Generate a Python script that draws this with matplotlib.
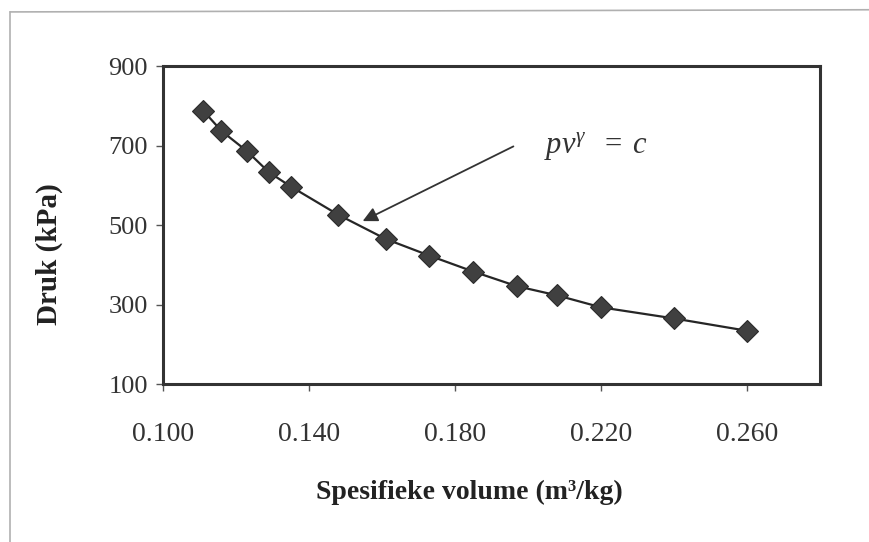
import matplotlib
matplotlib.use('Agg')
import matplotlib.pyplot as plt
from matplotlib.lines import Line2D

# Spesifieke volume (m3/kg) en druk (kPa), afgelees van die grafiek
volume = [0.111, 0.116, 0.123, 0.129, 0.135, 0.148, 0.161, 0.173,
          0.185, 0.197, 0.208, 0.220, 0.240, 0.260]
druk = [788, 737, 686, 633, 597, 526, 465, 423,
        383, 346, 323, 293, 265, 234]

x_ticks = [0.100, 0.140, 0.180, 0.220, 0.260]
y_ticks = [100, 300, 500, 700, 900]

plt.rcParams['font.family'] = 'Liberation Serif'
plt.rcParams['mathtext.fontset'] = 'custom'
plt.rcParams['mathtext.rm'] = 'Liberation Serif'
plt.rcParams['mathtext.it'] = 'Liberation Serif:italic'

fig = plt.figure(figsize=(8.69, 5.42), dpi=100)
ax = fig.add_axes([0.1876, 0.2915, 0.756, 0.5865])

# buitenste raam (net bo en links sigbaar)
fig.add_artist(Line2D([0.012, 1.0], [0.978, 0.982], transform=fig.transFigure,
                      color='#b0b0b0', lw=1.2))
fig.add_artist(Line2D([0.012, 0.012], [0.0, 0.978], transform=fig.transFigure,
                      color='#b0b0b0', lw=1.2))

ax.plot(volume, druk, color='#262626', lw=1.6, marker='D', ms=11.5,
        markerfacecolor='#404040', markeredgecolor='#2a2a2a', markeredgewidth=0.8)

ax.set_xlim(0.100, 0.280)
ax.set_ylim(100, 900)
ax.set_xticks(x_ticks)
ax.set_xticklabels(['%.3f' % v for v in x_ticks])
ax.set_yticks(y_ticks)

for s in ax.spines.values():
    s.set_linewidth(2.2)
    s.set_color('#333333')
ax.tick_params(direction='out', length=5, width=1, color='#555555',
               labelsize=19, labelcolor='#333333', pad=6)
ax.tick_params(axis='x', labelsize=20, pad=22)

ax.set_xlabel('Spesifieke volume (m³/kg)', fontsize=20,
              fontweight='bold', color='#222222')
ax.xaxis.set_label_coords(0.467, -0.30)
ax.set_ylabel('Druk (kPa)', fontsize=21, fontweight='bold', color='#222222')
ax.yaxis.set_label_coords(-0.152, 0.408)

ax.annotate('', xy=(0.1547, 510), xytext=(0.196, 698),
            arrowprops=dict(arrowstyle='-|>', color='#333333', lw=1.3,
                            mutation_scale=22, shrinkA=0, shrinkB=0))
ax.text(0.2045, 700, '$pv^{\\gamma}\\ \\ =\\ c$', fontsize=22, color='#333333',
        ha='left', va='center')

fig.savefig('out.png', dpi=100, facecolor='white')
